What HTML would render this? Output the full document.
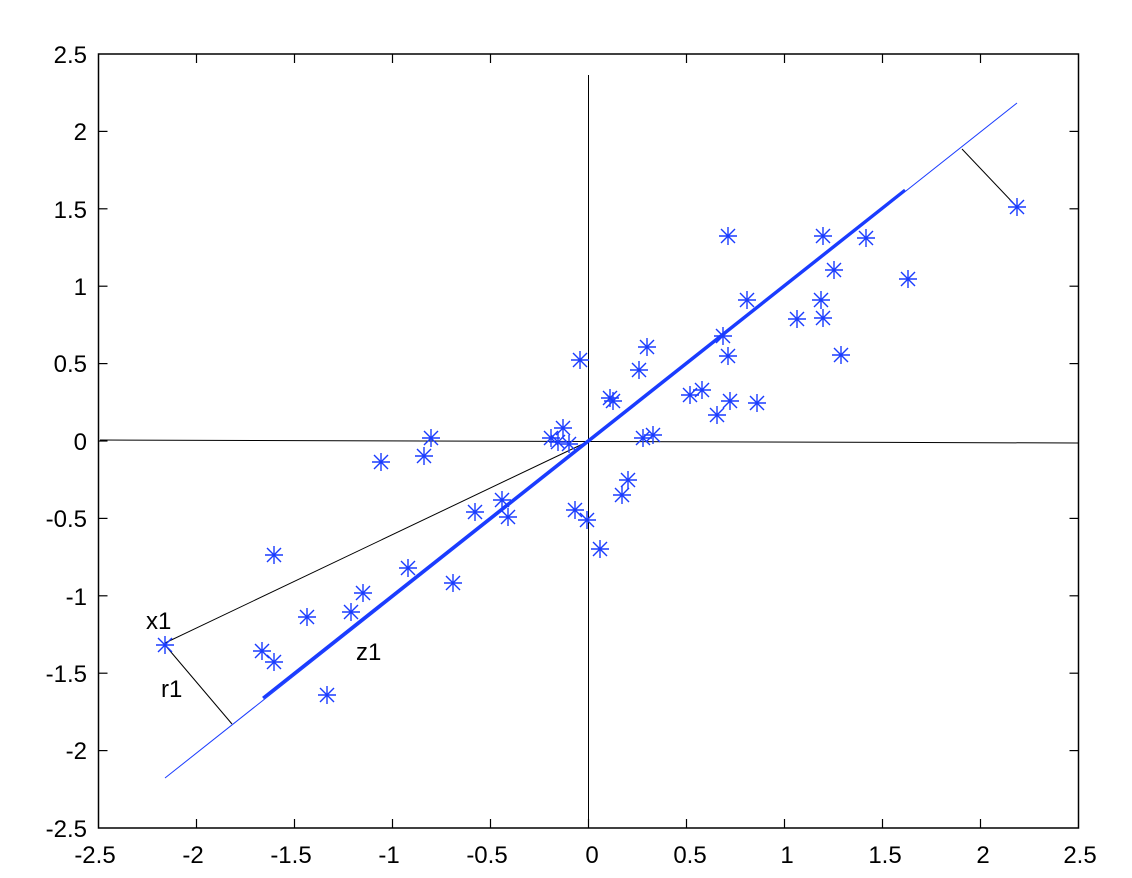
<!DOCTYPE html>
<html><head><style>body{margin:0;background:#fff}svg{display:block}text{font-family:"Liberation Sans",Arial,sans-serif;font-size:24px;fill:#000}</style></head><body>
<svg width="1132" height="878" xmlns="http://www.w3.org/2000/svg">
<defs><g id="s" stroke="#1a3cff" stroke-width="1.4"><line x1="-9" y1="0" x2="9" y2="0"/><line x1="0" y1="-9" x2="0" y2="9"/><line x1="-7" y1="-7" x2="7" y2="7"/><line x1="-7" y1="7" x2="7" y2="-7"/></g></defs>
<rect x="98.5" y="54" width="980" height="774" fill="none" stroke="#000" stroke-width="1.5"/>
<g stroke="#000" stroke-width="1.2">
<line x1="196.5" y1="828" x2="196.5" y2="819"/><line x1="294.5" y1="828" x2="294.5" y2="819"/><line x1="392.5" y1="828" x2="392.5" y2="819"/><line x1="490.5" y1="828" x2="490.5" y2="819"/><line x1="588.5" y1="828" x2="588.5" y2="819"/><line x1="686.5" y1="828" x2="686.5" y2="819"/><line x1="784.5" y1="828" x2="784.5" y2="819"/><line x1="882.5" y1="828" x2="882.5" y2="819"/><line x1="980.5" y1="828" x2="980.5" y2="819"/>
<line x1="196.5" y1="54" x2="196.5" y2="63"/><line x1="294.5" y1="54" x2="294.5" y2="63"/><line x1="392.5" y1="54" x2="392.5" y2="63"/><line x1="490.5" y1="54" x2="490.5" y2="63"/><line x1="686.5" y1="54" x2="686.5" y2="63"/><line x1="784.5" y1="54" x2="784.5" y2="63"/><line x1="882.5" y1="54" x2="882.5" y2="63"/><line x1="980.5" y1="54" x2="980.5" y2="63"/>
<line x1="98.5" y1="131.4" x2="107.5" y2="131.4"/><line x1="98.5" y1="208.8" x2="107.5" y2="208.8"/><line x1="98.5" y1="286.2" x2="107.5" y2="286.2"/><line x1="98.5" y1="363.6" x2="107.5" y2="363.6"/><line x1="98.5" y1="441" x2="107.5" y2="441"/><line x1="98.5" y1="518.4" x2="107.5" y2="518.4"/><line x1="98.5" y1="595.8" x2="107.5" y2="595.8"/><line x1="98.5" y1="673.2" x2="107.5" y2="673.2"/><line x1="98.5" y1="750.6" x2="107.5" y2="750.6"/>
<line x1="1078.5" y1="131.4" x2="1069.5" y2="131.4"/><line x1="1078.5" y1="208.8" x2="1069.5" y2="208.8"/><line x1="1078.5" y1="286.2" x2="1069.5" y2="286.2"/><line x1="1078.5" y1="363.6" x2="1069.5" y2="363.6"/><line x1="1078.5" y1="518.4" x2="1069.5" y2="518.4"/><line x1="1078.5" y1="595.8" x2="1069.5" y2="595.8"/><line x1="1078.5" y1="673.2" x2="1069.5" y2="673.2"/><line x1="1078.5" y1="750.6" x2="1069.5" y2="750.6"/>
</g>
<g stroke="#000" stroke-width="1">
<line x1="588.5" y1="75" x2="588.5" y2="828"/>
<line x1="100" y1="440" x2="1078" y2="443"/>
<line x1="165" y1="643" x2="589" y2="441"/>
<line x1="165" y1="645" x2="232" y2="724"/>
<line x1="1017" y1="207" x2="962" y2="149"/>
</g>
<line x1="165" y1="778" x2="1017" y2="103" stroke="#1a3cff" stroke-width="1"/>
<line x1="263" y1="698" x2="905" y2="190" stroke="#1a3cff" stroke-width="3"/>
<g>
<use href="#s" x="580" y="360"/><use href="#s" x="610" y="398"/><use href="#s" x="613" y="401"/><use href="#s" x="647" y="347"/><use href="#s" x="639" y="370"/><use href="#s" x="563" y="428"/><use href="#s" x="551" y="438"/><use href="#s" x="558" y="442"/><use href="#s" x="569" y="444"/><use href="#s" x="643" y="438"/><use href="#s" x="653" y="435"/>
<use href="#s" x="728" y="236"/><use href="#s" x="823" y="236"/><use href="#s" x="866" y="238"/><use href="#s" x="1017" y="207"/><use href="#s" x="908" y="279"/><use href="#s" x="834" y="270"/><use href="#s" x="821" y="300"/><use href="#s" x="823" y="318"/><use href="#s" x="797" y="319"/><use href="#s" x="747" y="300"/><use href="#s" x="723" y="336"/><use href="#s" x="728" y="356"/><use href="#s" x="841" y="355"/><use href="#s" x="690" y="395"/><use href="#s" x="702" y="390"/><use href="#s" x="730" y="401"/><use href="#s" x="757" y="403"/><use href="#s" x="717" y="415"/>
<use href="#s" x="628" y="480"/><use href="#s" x="622" y="495"/><use href="#s" x="575" y="510"/><use href="#s" x="587" y="520"/><use href="#s" x="600" y="549"/><use href="#s" x="502" y="500"/><use href="#s" x="508" y="517"/><use href="#s" x="475" y="512"/><use href="#s" x="453" y="583"/><use href="#s" x="408" y="568"/><use href="#s" x="363" y="593"/><use href="#s" x="351" y="612"/><use href="#s" x="307" y="617"/><use href="#s" x="274" y="555"/><use href="#s" x="327" y="695"/><use href="#s" x="262" y="651"/><use href="#s" x="274" y="662"/><use href="#s" x="165" y="645"/><use href="#s" x="381" y="462"/><use href="#s" x="424" y="456"/><use href="#s" x="431" y="438"/>
</g>
<text x="146" y="629">x1</text><text x="161" y="697">r1</text><text x="356" y="660">z1</text>
<g text-anchor="end">
<text x="87" y="63">2.5</text><text x="87" y="140">2</text><text x="87" y="218">1.5</text><text x="87" y="295">1</text><text x="87" y="372">0.5</text><text x="87" y="450">0</text><text x="87" y="527">-0.5</text><text x="87" y="605">-1</text><text x="87" y="682">-1.5</text><text x="87" y="759">-2</text><text x="87" y="837">-2.5</text>
</g>
<g text-anchor="middle">
<text x="95" y="863">-2.5</text><text x="193" y="863">-2</text><text x="291" y="863">-1.5</text><text x="389" y="863">-1</text><text x="487" y="863">-0.5</text><text x="592" y="863">0</text><text x="690" y="863">0.5</text><text x="787" y="863">1</text><text x="885" y="863">1.5</text><text x="983" y="863">2</text><text x="1080" y="863">2.5</text>
</g>
</svg>
</body></html>
